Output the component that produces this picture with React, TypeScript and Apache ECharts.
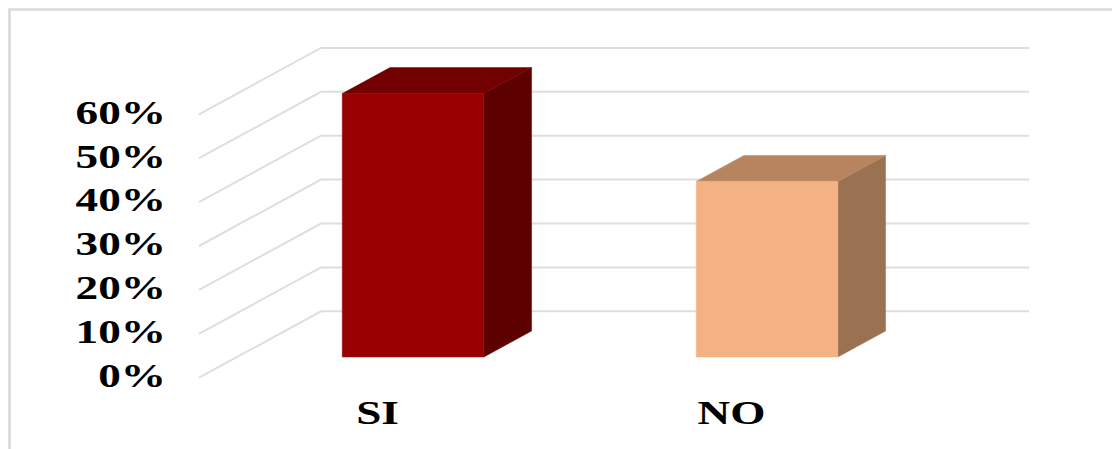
import React, { useEffect, useRef } from "react";
import * as echarts from "echarts";

const categories = ["SI", "NO"];
const shares = [60, 40];
const tickValues = [0, 10, 20, 30, 40, 50, 60];
const frontColors = ["#990000", "#f4b183"];
const topColors = ["#730000", "#b78460"];
const sideColors = ["#5c0000", "#9a7252"];

// Oblique projection of the chart's depth axis, in pixels.
const DEPTH_X = 122;
const DEPTH_Y = -66.4;
const BAR_NEAR = 0.312;
const BAR_FAR = 0.703;
const BAR_NUDGE = -1;
const GRID_COLOR = "#dedede";
const TEXT_STRETCH = 1.37;
const FONT = 'bold 33px "Liberation Serif", serif';

const shift = (p: number[], depth: number) => [p[0] + DEPTH_X * depth, p[1] + DEPTH_Y * depth];

function renderWallLine(_: any, api: any) {
  const front = api.coord([0, api.value(0)]);
  const start = [api.coord([0, 0])[0] - api.size([1, 0])[0] / 2, front[1]];
  const back = shift(start, 1);
  return {
    type: "polyline",
    shape: { points: [start, back, [back[0] + api.size([1, 0])[0] * 2, back[1]]] },
    style: { fill: "none", stroke: GRID_COLOR, lineWidth: 2 },
  };
}

function renderBox(params: any, api: any) {
  const i = params.dataIndex;
  const band = api.size([1, 0])[0];
  const half = band * 0.2;
  const base = api.coord([i, 0]);
  const top = api.coord([i, api.value(1)]);
  const corner = (dx: number, y: number, depth: number) => shift([base[0] + BAR_NUDGE + dx, y], depth);
  const poly = (points: number[][], fill: string) => ({
    type: "polygon",
    shape: { points },
    style: { fill, stroke: fill, lineWidth: 0.5 },
  });
  return {
    type: "group",
    children: [
      poly(
        [corner(half, top[1], BAR_NEAR), corner(half, top[1], BAR_FAR), corner(half, base[1], BAR_FAR), corner(half, base[1], BAR_NEAR)],
        sideColors[i]
      ),
      poly(
        [corner(-half, top[1], BAR_NEAR), corner(-half, top[1], BAR_FAR), corner(half, top[1], BAR_FAR), corner(half, top[1], BAR_NEAR)],
        topColors[i]
      ),
      poly(
        [corner(-half, top[1], BAR_NEAR), corner(half, top[1], BAR_NEAR), corner(half, base[1], BAR_NEAR), corner(-half, base[1], BAR_NEAR)],
        frontColors[i]
      ),
    ],
  };
}

// Axis texts are wider than the typeface's natural proportions, so they are
// drawn as stretched text elements anchored on the axis scales.
function renderTickLabel(_: any, api: any) {
  const value = api.value(0);
  const p = api.coord([0, value]);
  const left = p[0] - api.size([1, 0])[0] / 2;
  return {
    type: "text",
    x: left - 33,
    y: p[1] - 1.5,
    scaleX: TEXT_STRETCH,
    style: { text: `${value}%`, font: FONT, fill: "#000", textAlign: "right", textVerticalAlign: "middle" },
  };
}

function renderCategoryLabel(params: any, api: any) {
  const p = api.coord([params.dataIndex, 0]);
  return {
    type: "text",
    x: p[0] + 1.5,
    y: p[1] + 35,
    scaleX: TEXT_STRETCH,
    style: { text: categories[params.dataIndex], font: FONT, fill: "#000", textAlign: "center", textVerticalAlign: "middle" },
  };
}

export default function App() {
  const ref = useRef<HTMLDivElement>(null);

  useEffect(() => {
    const chart = echarts.init(ref.current!, undefined, { renderer: "svg" });
    const barData = categories.map((c, i) => [c, shares[i]]);
    const tickData = tickValues.map((v) => [v]);
    chart.setOption({
      animation: false,
      backgroundColor: "#fff",
      grid: { left: 199, top: 114.3, width: 708, height: 263.4 },
      xAxis: {
        type: "category",
        data: categories,
        axisLine: { show: false },
        axisTick: { show: false },
        axisLabel: { show: false },
      },
      yAxis: {
        type: "value",
        min: 0,
        max: 60,
        interval: 10,
        axisLine: { show: false },
        axisTick: { show: false },
        axisLabel: { show: false },
        splitLine: { show: false },
      },
      graphic: [
        {
          type: "polyline",
          silent: true,
          shape: { points: [[9.5, 449], [9.5, 9.5], [1112, 9.5]] },
          style: { fill: "none", stroke: "#dadada", lineWidth: 2.6 },
        },
      ],
      series: [
        { type: "custom", name: "wall", renderItem: renderWallLine, data: tickData, encode: { y: 0 }, silent: true, z: 1 },
        { type: "custom", name: "share", renderItem: renderBox, data: barData, encode: { x: 0, y: 1 }, silent: true, z: 2 },
        { type: "custom", name: "ticks", renderItem: renderTickLabel, data: tickData, encode: { y: 0 }, silent: true, z: 3 },
        { type: "custom", name: "categories", renderItem: renderCategoryLabel, data: barData, encode: { x: 0 }, silent: true, z: 3 },
      ],
    });
    return () => chart.dispose();
  }, []);

  return <div ref={ref} style={{ position: "absolute", left: 0, top: 0, width: 1112, height: 449 }} />;
}
